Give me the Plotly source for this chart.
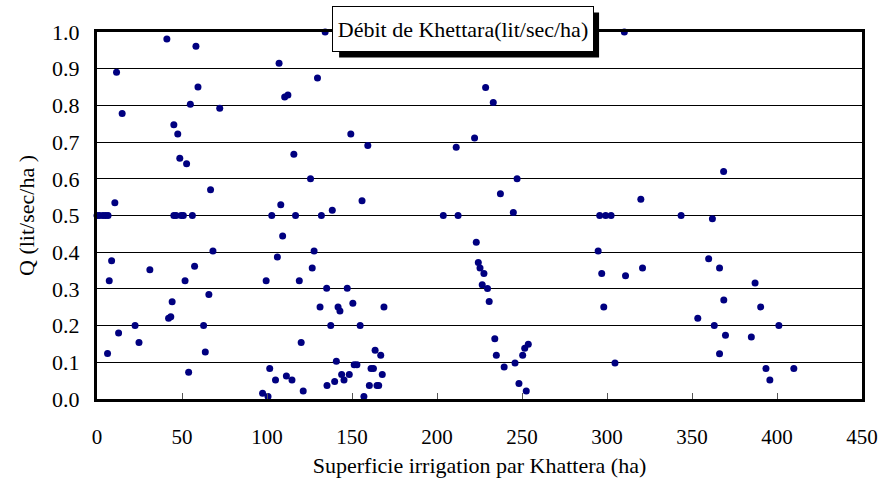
import plotly.graph_objects as go

# Superficie irriguée (ha) and débit (lit/sec/ha)
superficie = [
    0, 1.5, 3.5, 5, 6.5, 10.5, 11.5, 14.8, 8.6, 7.2, 31.1, 22.4, 12.7, 24.7, 6.2,
    41.1, 58.2, 59.4, 54.9, 72.2, 45.2, 47.5, 48.7, 52.7, 66.8,
    45.2, 46.5, 49.5, 50.8, 56.1,
    68.2, 57.4, 51.8, 65.8, 44.2, 42.1, 43.4, 62.7, 63.7, 53.9,
    134.2, 107.1, 129.7, 110.4, 112.3, 149.3, 159.3, 115.8, 125.6, 108.1, 155.9, 102.8, 116.8, 132.0, 138.4,
    109.2, 127.7, 106.1, 126.6, 99.5, 119.0, 135.1, 147.2, 131.2, 141.8, 142.9, 150.5, 168.8, 137.5, 154.8,
    120.1, 163.6, 166.9, 140.8, 151.3, 152.9, 161.2, 162.6, 101.6, 105.0, 111.4, 114.7, 143.9, 148.4, 145.3,
    139.8, 135.3, 167.8, 160.2, 164.7, 165.7, 121.3, 97.4, 100.6, 157.0,
    228.6, 233.1, 222.1, 211.3, 247.1, 237.3, 203.7, 212.4, 244.9, 223.1, 224.3, 225.3, 227.6, 226.6, 229.7,
    230.7, 234.0, 234.9, 239.5, 245.9, 250.4, 251.6, 253.7, 248.2, 252.5,
    310.2, 319.9, 295.7, 299.2, 302.4, 294.8, 296.9, 310.9, 320.9, 298.1, 304.7,
    368.6, 343.6, 362.0, 359.8, 366.2, 353.4, 363.1, 368.7, 369.7, 366.2, 387.1, 390.4, 401.1, 384.9, 393.5,
    409.9, 395.8,
]
debit = [
    0.5, 0.5, 0.5, 0.5, 0.5, 0.535, 0.89, 0.778, 0.377, 0.322, 0.352, 0.2, 0.18, 0.154, 0.124,
    0.981, 0.961, 0.85, 0.803, 0.792, 0.747, 0.722, 0.656, 0.641, 0.57,
    0.5, 0.5, 0.5, 0.5, 0.5,
    0.403, 0.362, 0.322, 0.285, 0.265, 0.22, 0.224, 0.2, 0.128, 0.073,
    1.0, 0.915, 0.875, 0.823, 0.828, 0.722, 0.691, 0.667, 0.6, 0.529, 0.54, 0.5, 0.5, 0.5, 0.514,
    0.444, 0.403, 0.387, 0.357, 0.322, 0.322, 0.302, 0.302, 0.251, 0.251, 0.24, 0.261, 0.251, 0.2, 0.2,
    0.154, 0.133, 0.119, 0.103, 0.093, 0.093, 0.083, 0.083, 0.083, 0.052, 0.063, 0.052, 0.067, 0.067, 0.052,
    0.048, 0.037, 0.067, 0.037, 0.037, 0.037, 0.022, 0.016, 0.007, 0.007,
    0.849, 0.808, 0.711, 0.686, 0.6, 0.559, 0.5, 0.5, 0.508, 0.427, 0.372, 0.357, 0.342, 0.311, 0.301,
    0.266, 0.164, 0.119, 0.087, 0.098, 0.119, 0.138, 0.149, 0.042, 0.022,
    1.0, 0.544, 0.5, 0.5, 0.5, 0.403, 0.342, 0.336, 0.357, 0.251, 0.098,
    0.62, 0.5, 0.491, 0.382, 0.357, 0.22, 0.2, 0.27, 0.174, 0.123, 0.316, 0.251, 0.2, 0.169, 0.083,
    0.083, 0.052,
]

chart_title = "Débit de Khettara(lit/sec/ha)"
x_title = "Superficie irrigation par Khattera (ha)"
y_title = "Q (lit/sec/ha )"

FONT = "Liberation Serif"

fig = go.Figure()
fig.add_trace(go.Scatter(
    x=superficie, y=debit, mode="markers",
    marker=dict(color="#000080", size=7, line=dict(width=0)),
    cliponaxis=False, showlegend=False,
))

# shadow of title box
fig.add_shape(type="rect", xref="paper", yref="paper",
              x0=0.3165, x1=0.6563, y0=0.9304, y1=1.0532,
              fillcolor="black", line=dict(width=0), layer="above")

fig.add_annotation(
    text=chart_title, xref="paper", yref="paper", x=0.4786, y=1.008,
    xanchor="center", yanchor="middle", showarrow=False,
    font=dict(family=FONT, size=22, color="black"),
    bgcolor="white", bordercolor="black", borderwidth=1, borderpad=2,
    width=256, height=40,
)

fig.update_layout(
    width=890, height=487,
    margin=dict(l=97, r=22, t=32, b=88),
    paper_bgcolor="white", plot_bgcolor="white",
    font=dict(family=FONT, size=21, color="black"),
    xaxis=dict(
        range=[0, 450], dtick=50, tick0=0,
        showgrid=False, zeroline=False,
        showline=True, linewidth=3, linecolor="black", mirror=True,
        ticks="inside", ticklen=6, tickwidth=1, tickcolor="#555",
        ticklabelstandoff=17,
        tickfont=dict(family=FONT, size=21),
        title=dict(text=x_title, font=dict(family=FONT, size=22), standoff=10),
    ),
    yaxis=dict(
        range=[0, 1.0], dtick=0.1, tick0=0, tickformat=".1f",
        showgrid=True, gridcolor="black", gridwidth=1,
        zeroline=False,
        showline=True, linewidth=3, linecolor="black", mirror=True,
        ticks="", ticklabelstandoff=10,
        tickfont=dict(family=FONT, size=22),
        title=dict(text=y_title, font=dict(family=FONT, size=22), standoff=12),
    ),
)

fig.write_html("out.html")
